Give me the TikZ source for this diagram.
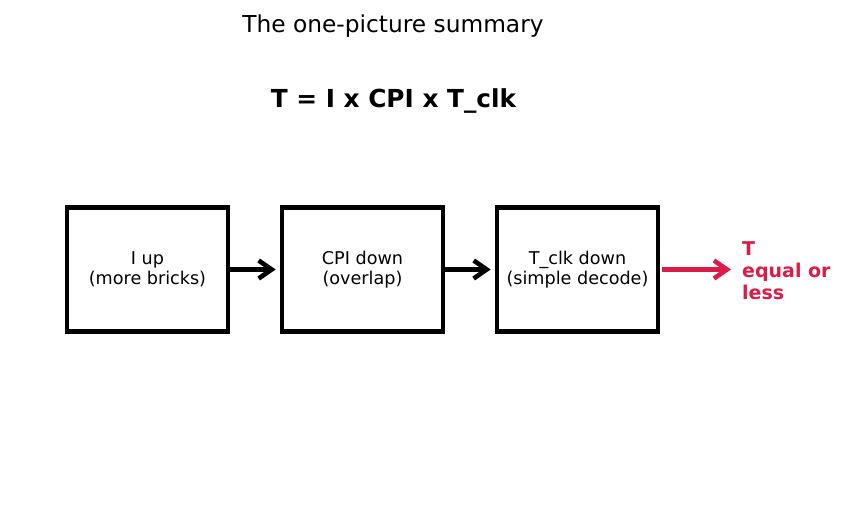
\documentclass[tikz,border=0pt]{standalone}
\usepackage{fontspec}
\setmainfont{DejaVu Sans}
\usepackage{xcolor}
\usetikzlibrary{arrows.meta}
\definecolor{tred}{RGB}{220,28,72}

\begin{document}
\begin{tikzpicture}[x=1pt,y=-1pt,
  stagebox/.style={draw,line width=4.6pt,minimum width=161pt,minimum height=124pt,
    inner sep=0pt,align=center,font=\fontsize{17.6}{20}\selectfont},
  flow/.style={line width=4.6pt,-{Straight Barb[length=13pt,width=18pt]}}]
\useasboundingbox (0,0) rectangle (846,510);
\node (title) at (393,26) {\fontsize{23.3}{28}\selectfont The one-picture summary};
\node (formula) at (393.5,101) {\fontsize{24.8}{30}\selectfont\bfseries T = I x CPI x T\_clk};
\node[stagebox] (iup) at (147.5,269.5) {I up\\(more bricks)};
\node[stagebox] (cpi) at (362.5,269.5) {CPI down\\(overlap)};
\node[stagebox] (tclk) at (577.5,269.5) {T\_clk down\\(simple decode)};
\coordinate (tend) at (731,269.5);
\node[anchor=west,align=left,text=tred,inner sep=0pt,font=\fontsize{19}{22}\selectfont\bfseries] (result) at (742,270.5) {T\\equal or\\less};
\draw[flow] (iup) -- ([xshift=-4pt]cpi.west);
\draw[flow] (cpi) -- ([xshift=-4pt]tclk.west);
\draw[flow,tred] ([xshift=2pt]tclk.east) -- (tend);
\end{tikzpicture}
\end{document}
